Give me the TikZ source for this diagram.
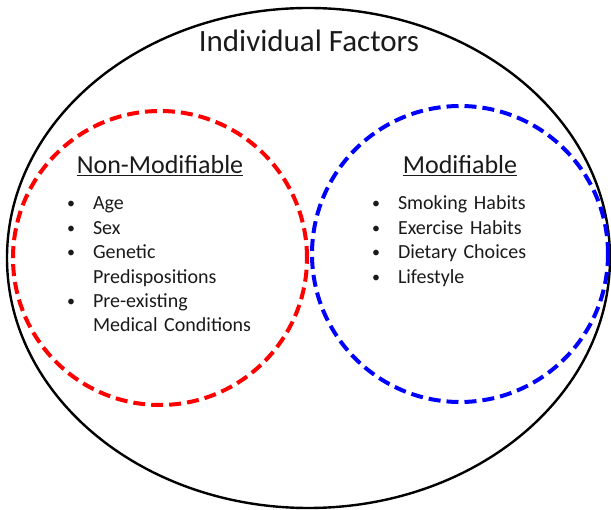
\documentclass[tikz,border=0pt]{standalone}
\usepackage{fontspec}
\setmainfont{Carlito}
\usetikzlibrary{shapes.geometric,positioning}
\definecolor{textgray}{RGB}{26,26,26}
\definecolor{setred}{RGB}{255,0,0}
\definecolor{setblue}{RGB}{0,0,255}
\newcommand{\setbullet}{\makebox[26pt][l]{\raisebox{1pt}{\fontsize{16}{16}\selectfont•}}}

\begin{document}
\begin{tikzpicture}
[x=1pt,y=-1pt,
set outer/.style={ellipse,draw,line width=2.4pt,minimum width=603pt,minimum height=500pt,inner sep=0pt},
set circle/.style={circle,draw,dash pattern=on 12pt off 6pt,line width=4pt,minimum size=294pt,inner sep=0pt},
set title/.style={font=\fontsize{31}{36}\selectfont,text=textgray,anchor=base,inner sep=0pt},
set header/.style={font=\fontsize{26}{30}\selectfont,text=textgray,anchor=base,inner sep=0pt},
set item/.style={font=\fontsize{20}{24}\selectfont,text=textgray,text width=190pt,align=left,text height=14pt,text depth=5pt,inner sep=0pt},
node distance=24.4pt
]
\useasboundingbox (0,0) rectangle (611,510);

% sets
\node[set outer] (F) at (308.5,258) {};
\node[set circle,color=setred] (N) at (160,258) {};
\node[set circle,color=setblue,minimum size=296pt] (M) at (460,254) {};

% title
\node[set title] (T) at (309,52) {Individual Factors};

% non-modifiable
\node[set header] (NH) at (160,174) {\underline{Non-Modifiable}};
\node[set item] (N1) at (162,205.5) {\setbullet Age};
\node[set item, below of=N1] (N2) {\setbullet Sex};
\node[set item, below of=N2] (N3) {\setbullet Genetic};
\node[set item, below of=N3] (N4) {\hspace*{26pt}Predispositions};
\node[set item, below of=N4] (N5) {\setbullet Pre-existing};
\node[set item, below of=N5] (N6) {\hspace*{26pt}Medical Conditions};

% modifiable
\node[set header] (MH) at (460,174) {\underline{Modifiable}};
\node[set item] (M1) at (467,205.5) {\setbullet Smoking Habits};
\node[set item, below of=M1] (M2) {\setbullet Exercise Habits};
\node[set item, below of=M2] (M3) {\setbullet Dietary Choices};
\node[set item, below of=M3] (M4) {\setbullet Lifestyle};

\end{tikzpicture}
\end{document}
